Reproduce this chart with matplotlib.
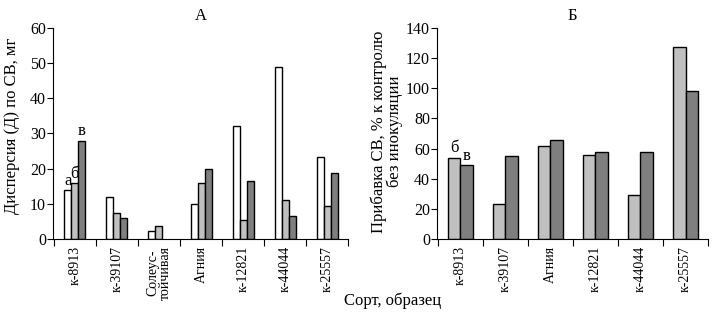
import matplotlib
matplotlib.use("Agg")
import matplotlib.pyplot as plt
import numpy as np

plt.rcParams['font.family'] = ['Liberation Serif', 'DejaVu Serif']

cats_a = ["к-8913", "к-39107", "Солеус-\nтойчивая", "Агния", "к-12821", "к-44044", "к-25557"]
a_white = [14, 12, 2.2, 10, 32, 49, 23.2]
a_light = [16, 7.5, 3.7, 16, 5.5, 11, 9.3]
a_dark = [28, 6, 0, 20, 16.5, 6.5, 18.7]

cats_b = ["к-8913", "к-39107", "Агния", "к-12821", "к-44044", "к-25557"]
b_light = [54, 23, 62, 55.5, 29.5, 127.5]
b_dark = [49, 55, 65.5, 57.5, 58, 98]

c_white = "#ffffff"
c_light = "#c0c0c0"
c_dark = "#7f7f7f"
fs_tick_y = 11.5
fs_tick_x = 10
fs_lab = 12
fs_ann = 12

fig = plt.figure(figsize=(7.21, 3.13), dpi=100)
axA = fig.add_axes([0.0735, 0.236, 0.4095, 0.675])
axB = fig.add_axes([0.606, 0.236, 0.376, 0.675])

def style(ax, n, ymax, step):
    for s in ["top", "right"]:
        ax.spines[s].set_visible(False)
    ax.set_xlim(-0.52, n - 0.5)
    ax.set_ylim(0, ymax)
    ax.set_yticks(np.arange(0, ymax + 1, step))
    ax.set_xticks(np.arange(n + 1) - 0.5)
    ax.set_xticklabels([])
    ax.set_xticks(np.arange(n), minor=True)
    ax.tick_params(axis='x', which='minor', length=0, labelsize=fs_tick_x, labelrotation=90, pad=5)
    ax.tick_params(axis='x', which='major', length=5, direction='out')
    ax.tick_params(axis='y', length=4, direction='out', labelsize=fs_tick_y, pad=1)

# Panel A
xa = np.arange(len(cats_a))
w = 0.167
axA.bar(xa - w, a_white, w, color=c_white, edgecolor='black', linewidth=1)
axA.bar(xa, a_light, w, color=c_light, edgecolor='black', linewidth=1)
mask = np.array(a_dark) > 0
axA.bar(xa[mask] + w, np.array(a_dark)[mask], w, color=c_dark, edgecolor='black', linewidth=1)
style(axA, len(cats_a), 60, 10)
axA.set_xticklabels(cats_a, minor=True, linespacing=0.9)
axA.set_ylabel("Дисперсия (Д) по СВ, мг", fontsize=fs_lab)
axA.yaxis.set_label_coords(-0.112, 0.535)
axA.set_title("А", fontsize=fs_lab, pad=6)
axA.text(xa[0] - w, a_white[0] + 0.3, "а", ha='center', va='bottom', fontsize=fs_ann)
axA.text(xa[0], a_light[0] + 0.3, "б", ha='center', va='bottom', fontsize=fs_ann)
axA.text(xa[0] + w, a_dark[0] + 0.3, "в", ha='center', va='bottom', fontsize=fs_ann)

# Panel B
xb = np.arange(len(cats_b))
wb = 0.28
axB.bar(xb - wb / 2, b_light, wb, color=c_light, edgecolor='black', linewidth=1)
axB.bar(xb + wb / 2, b_dark, wb, color=c_dark, edgecolor='black', linewidth=1)
style(axB, len(cats_b), 140, 20)
axB.set_xticklabels(cats_b, minor=True)
axB.set_ylabel("Прибавка СВ, % к контролю\nбез инокуляции", fontsize=fs_lab, linespacing=1.0)
axB.yaxis.set_label_coords(-0.125, 0.51)
axB.set_title("Б", fontsize=fs_lab, pad=6)
axB.text(xb[0] - wb / 2, b_light[0] + 1, "б", ha='center', va='bottom', fontsize=fs_ann)
axB.text(xb[0] + wb / 2, b_dark[0] + 1, "в", ha='center', va='bottom', fontsize=fs_ann)

fig.text(0.545, 0.04, "Сорт, образец", ha='center', va='center', fontsize=12)

fig.savefig("out.png", dpi=100)
